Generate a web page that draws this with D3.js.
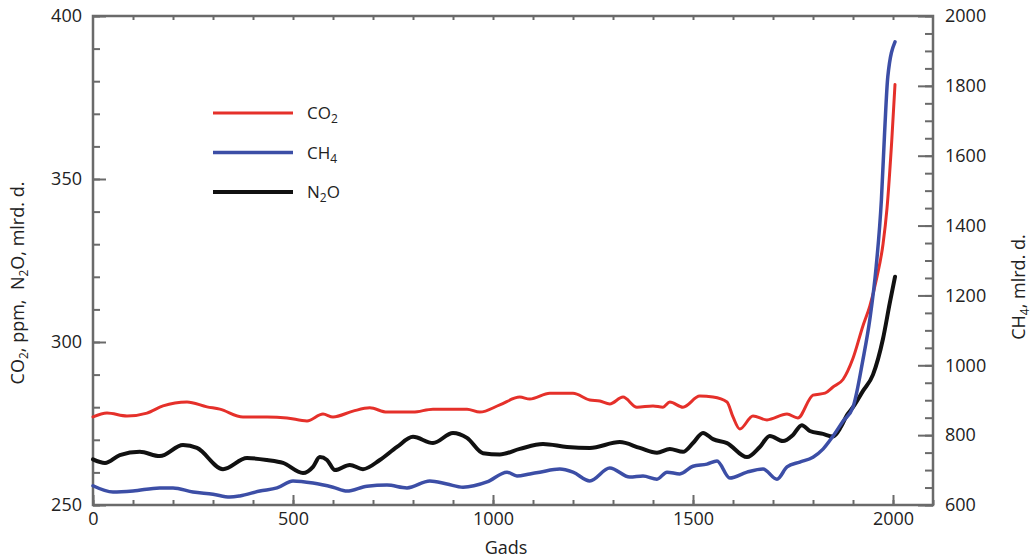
<!DOCTYPE html>
<html>
<head>
<meta charset="utf-8">
<script src="https://cdn.jsdelivr.net/npm/d3@7"></script>
<style>
  html, body { margin: 0; padding: 0; background: #fff; }
  svg text { font-family: "Open Sans", "Noto Sans", sans-serif; fill: #222; white-space: pre; }
</style>
</head>
<body>
<div id="chart"></div>
<script>
// CO2 (ppm, left axis)
const co2Years = [0, 35, 85, 135, 175, 235, 285, 317, 375, 435, 485, 535, 575, 600, 650, 692, 735, 800, 850, 935, 967, 1017, 1067, 1092, 1142, 1200, 1242, 1267, 1292, 1325, 1360, 1400, 1425, 1442, 1475, 1517, 1550, 1585, 1600, 1617, 1650, 1685, 1735, 1762, 1800, 1830, 1850, 1875, 1900, 1925, 1942, 1960, 1975, 1985, 1997, 2005];
const co2Values = [277, 278.2, 277.3, 278.2, 280.4, 281.6, 280.1, 279.4, 277, 277, 276.7, 275.8, 277.9, 277, 278.8, 279.8, 278.5, 278.5, 279.4, 279.4, 278.5, 280.7, 283.1, 282.5, 284.3, 284.3, 282.2, 281.9, 281, 283.1, 280, 280.4, 280, 281.6, 280, 283.4, 283.1, 281.6, 277, 273.3, 277.3, 276.1, 277.9, 276.7, 283.7, 284.3, 286.2, 288.5, 295, 305, 311, 320, 330, 341, 362, 379];

// CH4 (mlrd. d., right axis)
const ch4Years = [0, 50, 100, 167, 200, 250, 300, 342, 367, 417, 460, 500, 550, 600, 635, 685, 735, 785, 842, 885, 925, 985, 1035, 1060, 1092, 1117, 1167, 1200, 1242, 1292, 1342, 1375, 1410, 1435, 1467, 1500, 1535, 1560, 1592, 1635, 1675, 1710, 1735, 1767, 1800, 1825, 1850, 1875, 1900, 1925, 1942, 1958, 1971, 1979, 1987, 2005];
const ch4Values = [655, 637, 640, 649, 649, 637, 631, 623, 626, 640, 649, 669, 663, 651, 640, 654, 657, 649, 669, 660, 651, 666, 694, 683, 689, 694, 703, 694, 669, 706, 680, 683, 674, 694, 689, 711, 717, 726, 677, 694, 703, 674, 709, 723, 737, 760, 797, 840, 880, 1017, 1131, 1283, 1474, 1666, 1826, 1926];

// N2O (mlrd. d., left axis)
const n2oYears = [0, 30, 67, 117, 167, 225, 260, 325, 385, 435, 475, 525, 550, 567, 585, 605, 642, 675, 717, 760, 800, 850, 900, 935, 975, 1017, 1067, 1125, 1185, 1242, 1317, 1367, 1410, 1442, 1475, 1500, 1525, 1550, 1585, 1635, 1667, 1692, 1725, 1750, 1772, 1792, 1825, 1850, 1870, 1885, 1900, 1925, 1950, 1975, 1992, 2005];
const n2oValues = [264, 262.9, 265.3, 266.3, 265, 268.4, 267.5, 261, 264.4, 263.8, 262.9, 259.8, 261.7, 264.7, 263.8, 260.7, 262.3, 261, 263.8, 267.8, 270.9, 269, 272.1, 270.6, 265.9, 265.5, 267.2, 268.7, 267.8, 267.5, 269.3, 267.5, 266, 267.2, 266.3, 269, 272.1, 270.2, 269, 264.7, 267.8, 271.2, 269.6, 271.5, 274.5, 272.7, 271.8, 271, 274, 277.6, 280, 285, 290, 301, 312, 320];

const xTicks = [0, 500, 1000, 1500, 2000];
const leftTicks = [250, 300, 350, 400];
const rightTicks = [600, 800, 1000, 1200, 1400, 1600, 1800, 2000];

const width = 1033, height = 558;
const margin = { top: 16, right: 100, bottom: 53, left: 93 };

const svg = d3.select("#chart").append("svg")
    .attr("width", width)
    .attr("height", height);

const x = d3.scaleLinear().domain([0, 2100]).range([margin.left, width - margin.right]);
const yL = d3.scaleLinear().domain([250, 400]).range([height - margin.bottom, margin.top]);
const yR = d3.scaleLinear().domain([600, 2000]).range([height - margin.bottom, margin.top]);

const x0 = margin.left, x1 = width - margin.right;
const y0 = height - margin.bottom, y1 = margin.top;
const axisColor = "#6a6a6a";
const fmt = d3.format("d");

function styleTicks(g) {
    g.select(".domain").remove();
    g.selectAll(".tick line").attr("stroke", axisColor).attr("stroke-width", 2);
    g.selectAll(".tick text").attr("font-size", "18px");
}

// left axis: minor + major ticks (inward), labels outside
svg.append("g").attr("transform", `translate(${x0},0)`)
    .call(d3.axisRight(yL).tickValues(d3.range(250, 401, 10)).tickSize(7).tickFormat(""))
    .call(styleTicks);
svg.append("g").attr("transform", `translate(${x0},0)`)
    .call(d3.axisRight(yL).tickValues(leftTicks).tickSize(13).tickFormat(""))
    .call(styleTicks);
svg.append("g").attr("transform", `translate(${x0},0)`)
    .call(d3.axisLeft(yL).tickValues(leftTicks).tickSize(0).tickPadding(11).tickFormat(fmt))
    .call(styleTicks);

// right axis
svg.append("g").attr("transform", `translate(${x1},0)`)
    .call(d3.axisLeft(yR).tickValues(d3.range(600, 2001, 50)).tickSize(8).tickFormat(""))
    .call(styleTicks);
svg.append("g").attr("transform", `translate(${x1},0)`)
    .call(d3.axisLeft(yR).tickValues(rightTicks).tickSize(15).tickFormat(""))
    .call(styleTicks);
svg.append("g").attr("transform", `translate(${x1},0)`)
    .call(d3.axisRight(yR).tickValues(rightTicks).tickSize(0).tickPadding(12).tickFormat(fmt))
    .call(styleTicks);

// bottom axis
svg.append("g").attr("transform", `translate(0,${y0})`)
    .call(d3.axisTop(x).tickValues(d3.range(0, 2101, 100)).tickSize(5).tickFormat(""))
    .call(styleTicks);
svg.append("g").attr("transform", `translate(0,${y0})`)
    .call(d3.axisTop(x).tickValues(xTicks).tickSize(10).tickFormat(""))
    .call(styleTicks);
svg.append("g").attr("transform", `translate(0,${y0})`)
    .call(d3.axisBottom(x).tickValues(xTicks).tickSize(0).tickPadding(7).tickFormat(fmt))
    .call(styleTicks);

// top axis small ticks
svg.append("g").attr("transform", `translate(0,${y1})`)
    .call(d3.axisBottom(x).tickValues(d3.range(100, 2001, 100)).tickSize(4).tickFormat(""))
    .call(styleTicks);

// frame
svg.append("rect")
    .attr("x", x0).attr("y", y1)
    .attr("width", x1 - x0).attr("height", y0 - y1)
    .attr("fill", "none")
    .attr("stroke", axisColor)
    .attr("stroke-width", 2.5);

// lines
const series = [
    { years: n2oYears, values: n2oValues, y: yL, color: "#111111", w: 4 },
    { years: co2Years, values: co2Values, y: yL, color: "#e5302a", w: 3 },
    { years: ch4Years, values: ch4Values, y: yR, color: "#3c4ea6", w: 3.5 }
];

series.forEach(s => {
    const pts = s.years.map((yr, i) => [yr, s.values[i]]);
    const line = d3.line()
        .x(d => x(d[0]))
        .y(d => s.y(d[1]))
        .curve(d3.curveMonotoneX);
    svg.append("path")
        .datum(pts)
        .attr("d", line)
        .attr("fill", "none")
        .attr("stroke", s.color)
        .attr("stroke-width", s.w)
        .attr("stroke-linejoin", "round")
        .attr("stroke-linecap", "round");
});

// text with subscripts: parts = [[text, isSub], ...]
function subText(sel, parts) {
    let wasSub = false;
    parts.forEach(([t, sub]) => {
        const ts = sel.append("tspan").text(t);
        if (sub) ts.attr("font-size", "12px").attr("dy", 4);
        else if (wasSub) ts.attr("dy", -4);
        wasSub = sub;
    });
}

// legend
const legendItems = [
    { parts: [["CO", false], ["2", true]], color: "#e5302a", w: 3 },
    { parts: [["CH", false], ["4", true]], color: "#3c4ea6", w: 3.5 },
    { parts: [["N", false], ["2", true], ["O", false]], color: "#111111", w: 4 }
];
legendItems.forEach((d, i) => {
    const ly = 113 + i * 39.5;
    svg.append("line")
        .attr("x1", 213).attr("x2", 293)
        .attr("y1", ly).attr("y2", ly)
        .attr("stroke", d.color)
        .attr("stroke-width", d.w);
    const t = svg.append("text")
        .attr("x", 307).attr("y", ly + 6)
        .attr("font-size", "17px");
    subText(t, d.parts);
});

// axis titles
svg.append("text")
    .attr("x", (x0 + x1) / 2 - 7).attr("y", 554)
    .attr("text-anchor", "middle")
    .attr("font-size", "18px")
    .text("Gads");

const lt = svg.append("text")
    .attr("transform", "translate(24,283) rotate(-90)")
    .attr("text-anchor", "middle")
    .attr("font-size", "18px");
subText(lt, [["CO", false], ["2", true], [", ppm,  N", false], ["2", true], ["O, mlrd. d.", false]]);

const rt = svg.append("text")
    .attr("transform", "translate(1025,287) rotate(-90)")
    .attr("text-anchor", "middle")
    .attr("font-size", "18px");
subText(rt, [["CH", false], ["4", true], [", mlrd. d.", false]]);
</script>
</body>
</html>
